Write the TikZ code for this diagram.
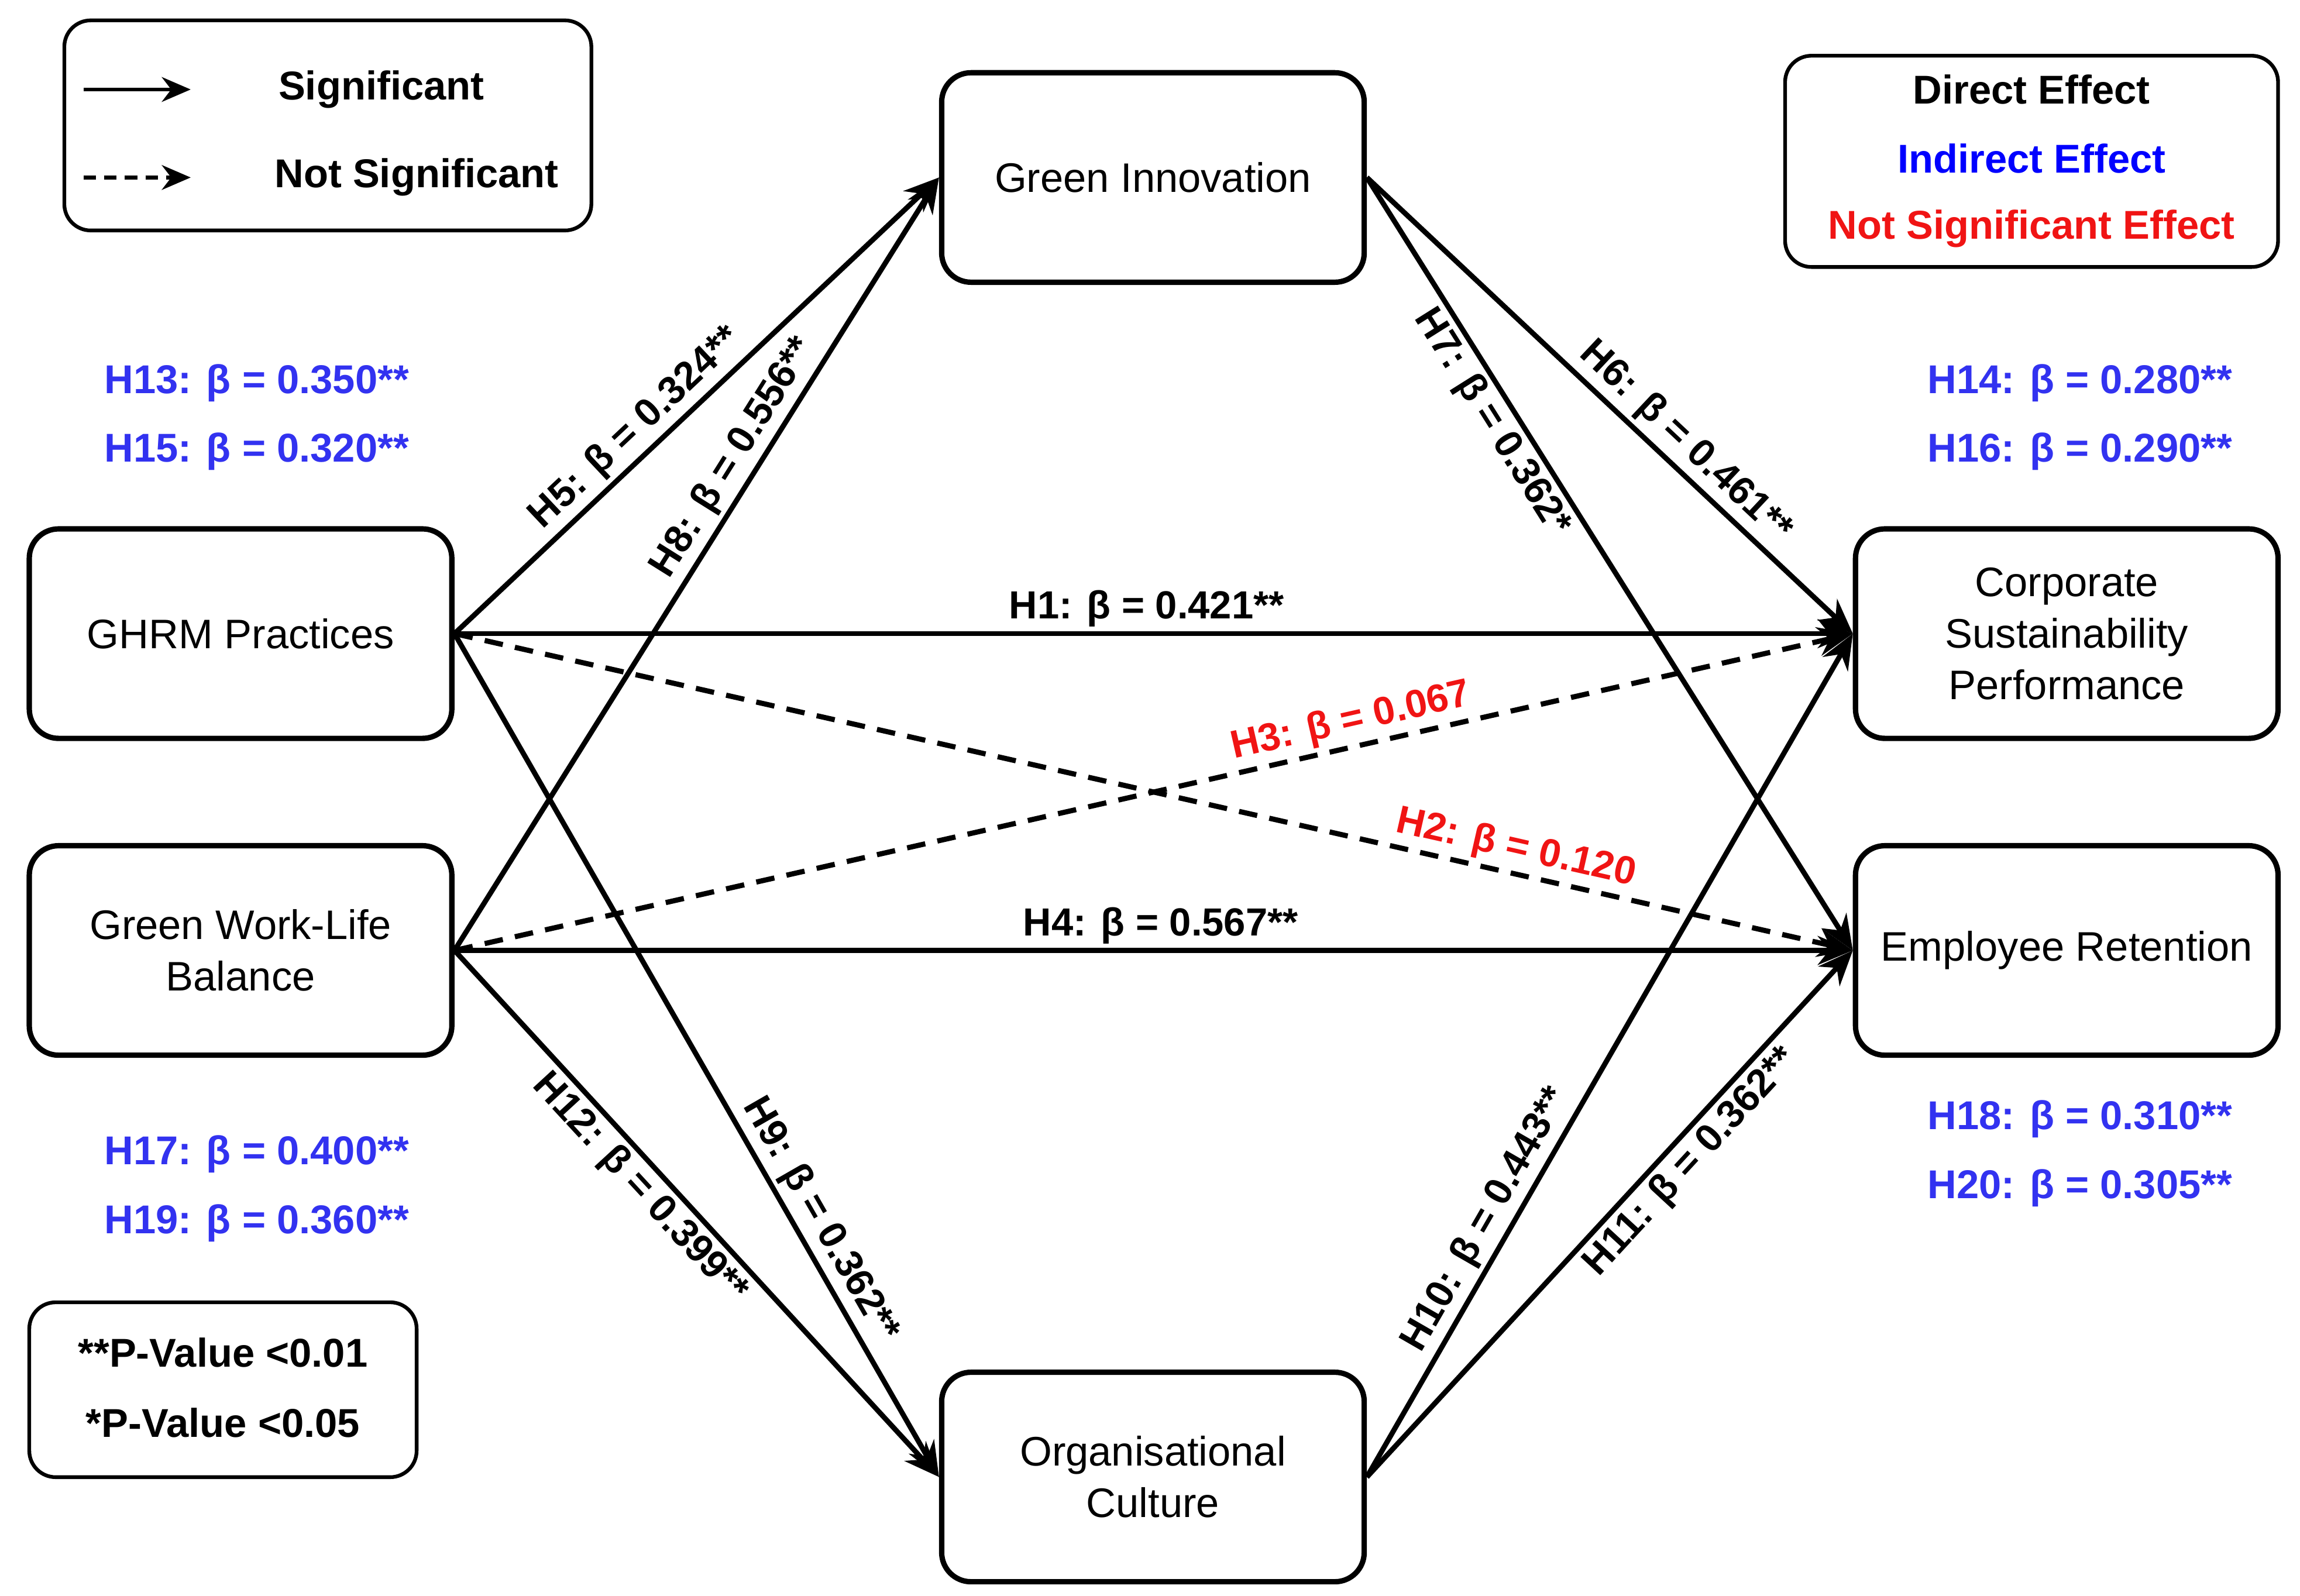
\documentclass[tikz,border=0pt]{standalone}
\usepackage{fontspec}
\setmainfont{Liberation Sans}
\usetikzlibrary{arrows.meta}
\definecolor{bl}{RGB}{50,50,240}
\definecolor{rd}{RGB}{240,20,20}
\begin{document}
\begin{tikzpicture}[x=0.025cm,y=-0.025cm,
 box/.style={draw,line width=2.6pt,rounded corners=0.5cm,minimum width=7.2cm,minimum height=3.57cm,align=center,font=\fontsize{20}{25}\selectfont},
 lbox/.style={draw,line width=1.8pt,rounded corners=0.45cm,inner sep=0pt},
 arr/.style={line width=2.5pt,-{Stealth[length=17pt,width=14pt]}},
 dsh/.style={arr,dash pattern=on 9pt off 6pt},
 lab/.style={font=\fontsize{19}{23}\selectfont\bfseries,sloped,inner sep=2pt},
 blt/.style={font=\fontsize{19.5}{23}\selectfont\bfseries,text=bl},
 leg/.style={font=\fontsize{19.5}{23}\selectfont\bfseries}]
\useasboundingbox (0,0) rectangle (1568,1088);
\node[box] (gi) at (786,121) {Green Innovation};
\node[box] (ghrm) at (164,432) {GHRM Practices};
\node[box] (gw) at (164,648) {Green Work-Life\\Balance};
\node[box] (csp) at (1409,432) {Corporate\\Sustainability\\Performance};
\node[box] (er) at (1409,648) {Employee Retention};
\node[box] (oc) at (786,1007) {Organisational\\Culture};
% legends
\node[lbox,minimum width=8.98cm,minimum height=3.58cm] (lg) at (223.5,85.5) {};
\coordinate (s1) at (57,61); \coordinate (s2) at (130,61);
\coordinate (d1) at (57,121); \coordinate (d2) at (130,121);
\draw[line width=1.8pt,-{Stealth[length=14pt,width=12pt]}] (s1) -- (s2);
\draw[line width=1.8pt,dash pattern=on 6pt off 4pt,-{Stealth[length=14pt,width=12pt]}] (d1) -- (d2);
\node[leg] (ls) at (260,61) {Significant};
\node[leg] (ln) at (284,121) {Not Significant};
\node[lbox,minimum width=8.4cm,minimum height=3.6cm] (eg) at (1385,110) {};
\node[leg] (e1) at (1385,61) {Direct Effect};
\node[leg,text=blue] (e2) at (1385,108) {Indirect Effect};
\node[leg,text=rd] (e3) at (1385,156) {Not Significant Effect};
\node[lbox,minimum width=6.6cm,minimum height=2.98cm] (pg) at (152,947.5) {};
\node[leg] (p1) at (152,922) {**P-Value <0.01};
\node[leg] (p2) at (152,970) {*P-Value <0.05};
% blue texts
\node[blt] (h13) at (175,261) {H13: β = 0.350**};
\node[blt] (h15) at (175,308) {H15: β = 0.320**};
\node[blt] (h14) at (1418,261) {H14: β = 0.280**};
\node[blt] (h16) at (1418,308) {H16: β = 0.290**};
\node[blt] (h17) at (175,787) {H17: β = 0.400**};
\node[blt] (h19) at (175,834) {H19: β = 0.360**};
\node[blt] (h18) at (1418,763) {H18: β = 0.310**};
\node[blt] (h20) at (1418,810) {H20: β = 0.305**};
% arrows
\draw[arr] (ghrm.east) -- (gi.west) node[lab,pos=0.41,above] {H5: β = 0.324**};
\draw[arr] (gw.east) -- (gi.west) node[lab,pos=0.62,above] {H8: β = 0.556**};
\draw[arr] (ghrm.east) -- (csp.west) node[lab,pos=0.495,above] {H1: β = 0.421**};
\draw[arr] (gw.east) -- (er.west) node[lab,pos=0.505,above] {H4: β = 0.567**};
\draw[dsh] (ghrm.east) -- (er.west) node[lab,pos=0.755,above,text=rd] {H2: β = 0.120};
\draw[dsh] (gw.east) -- (csp.west) node[lab,pos=0.645,above,text=rd] {H3: β = 0.067};
\draw[arr] (ghrm.east) -- (oc.west) node[lab,pos=0.71,above] {H9: β = 0.362**};
\draw[arr] (gw.east) -- (oc.west) node[lab,pos=0.42,below] {H12: β = 0.399**};
\draw[arr] (gi.east) -- (csp.west) node[lab,pos=0.62,above] {H6: β = 0.461**};
\draw[arr] (gi.east) -- (er.west) node[lab,pos=0.3,below] {H7: β = 0.362*};
\draw[arr] (oc.east) -- (csp.west) node[lab,pos=0.29,above] {H10: β = 0.443**};
\draw[arr] (oc.east) -- (er.west) node[lab,pos=0.63,below] {H11: β = 0.362**};
\end{tikzpicture}
\end{document}
